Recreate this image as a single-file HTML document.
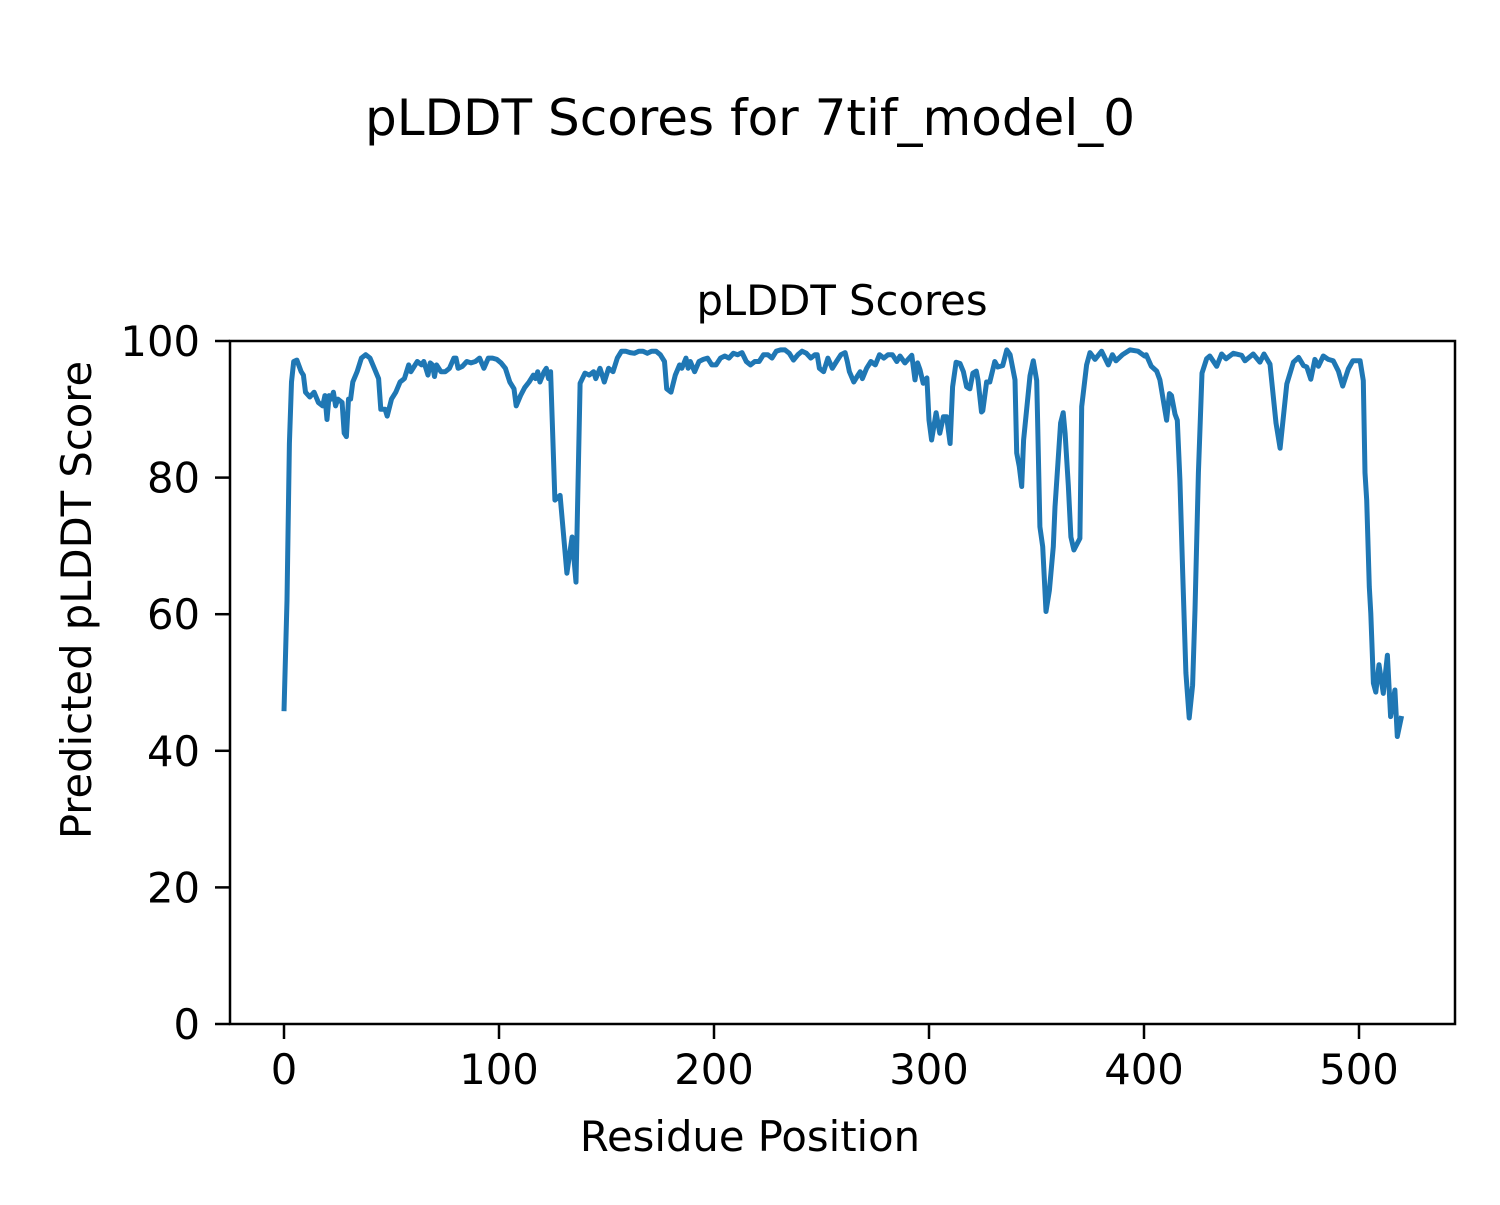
<!DOCTYPE html>
<html><head><meta charset="utf-8"><style>
html,body{margin:0;padding:0;background:#fff;}
svg text{font-family:"DejaVu Sans","Liberation Sans",sans-serif;fill:#000;}
</style></head><body>
<svg id="chart" width="1500" height="1200" viewBox="0 0 1500 1200" xmlns="http://www.w3.org/2000/svg">
<rect width="1500" height="1200" fill="#fff"/>
<text x="750" y="135" font-size="50" text-anchor="middle">pLDDT Scores for 7tif_model_0</text>
<text x="842" y="315" font-size="41.7" text-anchor="middle">pLDDT Scores</text>
<text x="750" y="1151" font-size="41.7" text-anchor="middle">Residue Position</text>
<text x="0" y="0" font-size="41.7" text-anchor="middle" transform="translate(91,600) rotate(-90)">Predicted pLDDT Score</text>
<g id="ticks"></g>
<polyline id="series" fill="none" stroke="#1f77b4" stroke-width="5" stroke-linejoin="round" stroke-linecap="butt"/>
<rect x="230" y="341" width="1225" height="683" fill="none" stroke="#000" stroke-width="2.5"/>
</svg>
<script>
const residues = [0,1.4,2.5,3.5,4.5,6,8,9,10,12,14,16,18,19,20,21,22,23,24,25,27,28,29,30,31,32,34,36,38,40,42,44,45,47,48,50,52,54,56,58,59,61,62,64,65,67,68,69,70,71,73,75,77,79,80,81,83,85,87,89,91,93,95,97,99,101,103,105,107,108,110,112,114,116,117,118,119,121,122,123,124,126,128.4,131.6,134,135.8,137.7,140,142,144,145,147,148,149,151,153,155,157,159,161,163,165,167,169,171,173,175,177,178,180,182,184,185,187,188,189,191,193,195,197,199,201,203,205,207,209,211,213,215,217,219,221,223,225,227,229,231,233,235,237,239,241,243,245,247,248,249,251,253,255,257,259,261,262,263,265,267,268,269,271,273,275,277,279,281,283,285,286.5,288.8,292,293.5,294.7,295.8,297.3,299,300,301.2,303.3,305,306.7,308.2,309.8,311,312.6,314.4,316,317.5,319,320.4,322,322.8,324.4,325,326.8,328.3,330.6,332,334.3,336.2,337.7,340,340.8,342,343.1,344,347,348.5,350.1,350.4,351.6,352.9,354.4,356,357.8,358.6,361.2,362.4,363.3,364.8,366,367.4,370.2,371,373.3,374.9,377.2,380.3,383.4,385.3,387,390,393.5,397.2,400.3,401,403.4,405.9,407.4,410.5,411.8,412.8,414.4,415.5,416.7,418,419.5,421,422.6,423.7,425.3,427,429.1,430.6,433.8,436.1,438.2,441.6,445.4,447,450.8,453.9,455.8,458.6,461.4,463.3,466.4,469.5,471.9,474.2,475.7,477.6,479.5,481.1,483.4,485.7,488,490.4,492.4,495,497.1,500.5,502,502.8,503.6,504.8,505.5,506.7,507.8,509.3,511.3,513.2,514.7,516.7,517.8,519.8];
const scores = [45.8,62,85,94,97,97.2,95.5,95,92.5,91.8,92.5,91,90.5,92,88.5,92,91.5,92.5,90.5,91.5,91,86.5,86,91.5,91.5,94,95.5,97.5,98,97.5,96,94.5,90,90,89,91.5,92.5,94,94.5,96.5,95.5,96.5,97,96.5,97,95,96.8,96.5,94.8,96.5,95.5,95.5,96,97.5,97.5,96,96.3,97,96.8,97,97.5,96,97.5,97.5,97.3,96.8,96,94,93,90.5,92,93.2,94,95,94.5,95.5,94,95.5,96,94.5,95.5,76.7,77.4,66,71.3,64.7,93.8,95.3,95,95.5,94.5,96,95,94,96,95.5,97.5,98.5,98.5,98.3,98.2,98.5,98.5,98.2,98.5,98.5,98,97,93,92.5,95,96.5,96,97.5,96,97,95.5,97,97.3,97.5,96.5,96.5,97.5,97.8,97.5,98.2,98,98.3,97,96.5,97,97,98,98,97.5,98.5,98.7,98.7,98.2,97.2,98,98.5,98.2,97.5,98,98,96,95.5,97.5,96,97,98,98.3,97,95.5,94,95,95.5,94.5,96,97,96.5,98,97.5,98,98,97,97.8,96.8,97.9,94.3,96.8,95.8,93.8,94.6,88.4,85.5,89.5,86.5,88.9,88.9,85,93.3,96.9,96.7,95.5,93.3,93,95.3,95.6,94.3,89.6,89.8,94,94,97,96.2,96.4,98.7,98,94.3,83.6,81.6,78.7,85.5,94.9,97.1,94.2,89.8,72.8,69.9,60.4,63.5,69.9,75.7,88,89.5,86.5,78.9,71.3,69.4,71.1,90.4,96.5,98.3,97.3,98.5,96.5,98,97.1,98,98.7,98.5,97.8,98,96.3,95.6,94.3,88.4,92.3,92,89.3,88.4,79.7,66,51.4,44.8,49.6,60.6,80.7,95.3,97.4,97.8,96.3,98.1,97.4,98.2,97.9,97.1,98.1,96.9,98.1,96.6,88,84.3,93.7,96.9,97.6,96.4,96.2,94.4,97.3,96.3,97.8,97.3,97.1,95.6,93.4,95.9,97.1,97.1,94.2,80.7,76.7,64,60.1,49.9,48.6,52.6,48.4,54,45,48.9,42.1,45.1,44.6];
const xTicks = [0,100,200,300,400,500];
const yTicks = [0,20,40,60,80,100];

const xS = v => 284 + v * 2.15;
const yS = v => 1024 - v * 6.83;
const NS = 'http://www.w3.org/2000/svg';
const line = document.getElementById('series');
line.setAttribute('points', residues.map((r, i) => xS(r).toFixed(1) + ',' + yS(scores[i]).toFixed(1)).join(' '));
const g = document.getElementById('ticks');
xTicks.forEach(t => {
  const l = document.createElementNS(NS, 'line');
  l.setAttribute('x1', xS(t)); l.setAttribute('x2', xS(t));
  l.setAttribute('y1', 1024); l.setAttribute('y2', 1039);
  l.setAttribute('stroke', '#000'); l.setAttribute('stroke-width', '2.5');
  
  
  g.appendChild(l);
  const tx = document.createElementNS(NS, 'text');
  tx.setAttribute('x', xS(t)); tx.setAttribute('y', 1084);
  tx.setAttribute('font-size', '41.7'); tx.setAttribute('text-anchor', 'middle');
  tx.textContent = t;
  
  
  g.appendChild(tx);
});
yTicks.forEach(t => {
  const l = document.createElementNS(NS, 'line');
  l.setAttribute('x1', 215); l.setAttribute('x2', 230);
  l.setAttribute('y1', yS(t)); l.setAttribute('y2', yS(t));
  l.setAttribute('stroke', '#000'); l.setAttribute('stroke-width', '2.5');
  
  
  g.appendChild(l);
  const tx = document.createElementNS(NS, 'text');
  tx.setAttribute('x', 200); tx.setAttribute('y', yS(t) + 15);
  tx.setAttribute('font-size', '41.7'); tx.setAttribute('text-anchor', 'end');
  tx.textContent = t;
  
  
  g.appendChild(tx);
});
</script>
</body></html>
